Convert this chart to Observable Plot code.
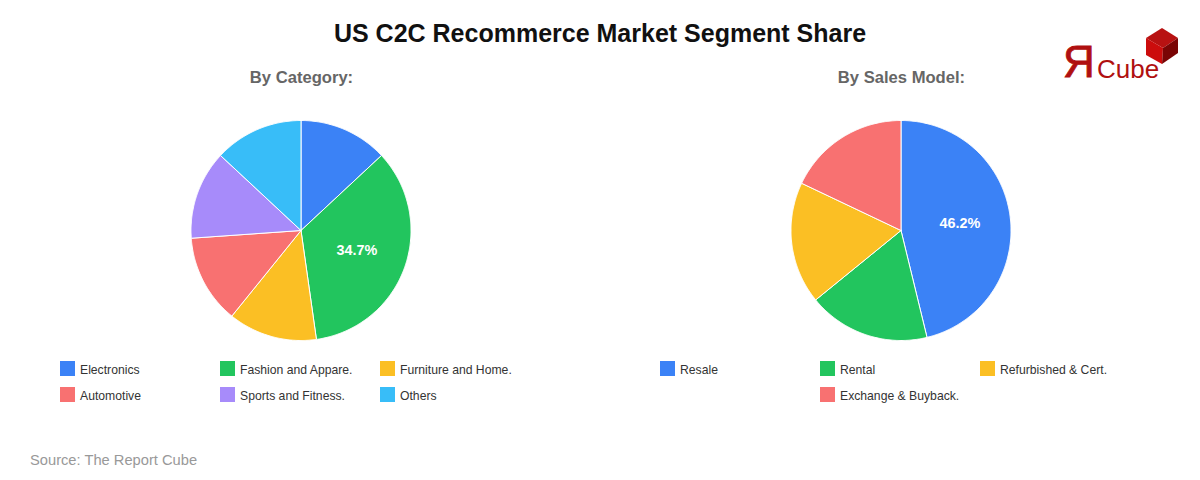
<!DOCTYPE html>
<html>
<head>
<meta charset="utf-8">
<script src="https://cdn.jsdelivr.net/npm/d3@7"></script>
<script src="https://cdn.jsdelivr.net/npm/@observablehq/plot@0.6"></script>
<style>
  html, body { margin: 0; padding: 0; background: #fff; }
  body { position: relative; width: 1200px; height: 480px; overflow: hidden; font-family: "Liberation Sans", Arial, sans-serif; }
  #title { position: absolute; left: 0; width: 1200px; top: 18px; text-align: center; font-size: 25px; line-height: 30px; font-weight: 700; color: #111; }
  .sub { position: absolute; top: 68px; width: 600px; text-align: center; font-size: 16.6px; line-height: 20px; font-weight: 700; color: #666; }
  .pie { position: absolute; top: 100px; width: 600px; height: 260px; }
  .pie svg { display: block; }
  .legend { position: absolute; top: 361px; display: grid; grid-template-columns: 160px 160px 160px; grid-auto-rows: 26px; font-size: 12.2px; color: #333; }
  .item { display: flex; align-items: flex-start; line-height: 16px; white-space: nowrap; }
  .item .tx { position: relative; top: 1px; }
  .sw { width: 15px; height: 15px; margin-right: 5px; flex: none; }
  #source { position: absolute; left: 30px; top: 451px; font-size: 14.7px; line-height: 18px; color: #999; }
  #logo { position: absolute; left: 1040px; top: 15px; }
</style>
</head>
<body>
<div id="title">US C2C Recommerce Market Segment Share</div>
<div class="sub" style="left:1.5px">By Category:</div>
<div class="sub" style="left:601.5px">By Sales Model:</div>
<div class="pie" id="pieA" style="left:0"></div>
<div class="pie" id="pieB" style="left:600px"></div>
<div class="legend" id="legA" style="left:60px"></div>
<div class="legend" id="legB" style="left:660px"></div>
<div id="source">Source: The Report Cube</div>
<svg id="logo" width="160" height="70" viewBox="0 0 160 70">
  <polygon points="122,13 138,23 123,33 106,23" fill="#b81212"/>
  <polygon points="106,23 123,33 122,49 106,40" fill="#cc0c0c"/>
  <polygon points="138,23 138,38 122,49 123,33" fill="#7a0505"/>
  <text x="23" y="62" font-family="Liberation Sans" font-size="44" fill="#b01010" stroke="#b01010" stroke-width="0.8">Я</text>
  <text x="57" y="63" font-family="Liberation Sans" font-size="26" fill="#b01010">Cube</text>
</svg>
<script>
const categoryNames = ["Electronics", "Fashion and Appare.", "Furniture and Home.", "Automotive", "Sports and Fitness.", "Others"];
const categoryValues = [13.06, 34.7, 13.06, 13.06, 13.06, 13.06];
const categoryColors = ["#3b82f6", "#22c55e", "#fbbf24", "#f87171", "#a78bfa", "#38bdf8"];

const modelNames = ["Resale", "Rental", "Refurbished & Cert.", "Exchange & Buyback."];
const modelValues = [46.2, 17.93, 17.93, 17.94];
const modelColors = ["#3b82f6", "#22c55e", "#fbbf24", "#f87171"];

const labelThreshold = 30;

function pie(target, names, values, colors, cx) {
  const total = d3.sum(values);
  const outline = [];
  const labels = [];
  let start = 0;
  names.forEach((name, i) => {
    const sweep = values[i] / total * 2 * Math.PI;
    outline.push({name, x: 0, y: 0});
    const steps = Math.max(2, Math.ceil(sweep / 0.01));
    for (let s = 0; s <= steps; s++) {
      const a = start + sweep * s / steps;
      outline.push({name, x: Math.sin(a), y: Math.cos(a)});
    }
    outline.push({name, x: 0, y: 0});
    if (values[i] > labelThreshold) {
      const mid = start + sweep / 2;
      labels.push({x: 0.54 * Math.sin(mid), y: 0.54 * Math.cos(mid), text: values[i].toFixed(1) + "%"});
    }
    start += sweep;
  });
  const plot = Plot.plot({
    width: 600,
    height: 260,
    margin: 0,
    x: {domain: [-1, 1], range: [cx - 110, cx + 110], axis: null},
    y: {domain: [-1, 1], range: [240, 20], axis: null},
    color: {domain: names, range: colors},
    style: {background: "transparent"},
    marks: [
      Plot.line(outline, {x: "x", y: "y", z: "name", fill: "name", stroke: "white", strokeWidth: 1, curve: "linear"}),
      Plot.text(labels, {x: "x", y: "y", text: "text", fill: "white", fontSize: 14.4, fontWeight: 700, fontFamily: "Liberation Sans"})
    ]
  });
  document.getElementById(target).append(plot);
}

function legend(target, names, colors, skipSlot) {
  const host = document.getElementById(target);
  names.forEach((name, i) => {
    const item = document.createElement("div");
    item.className = "item";
    if (i === skipSlot) item.style.gridColumn = "2";
    const sw = document.createElement("span");
    sw.className = "sw";
    sw.style.background = colors[i];
    const label = document.createElement("span");
    label.className = "tx";
    label.textContent = name;
    item.append(sw, label);
    host.append(item);
  });
}

pie("pieA", categoryNames, categoryValues, categoryColors, 300.5);
pie("pieB", modelNames, modelValues, modelColors, 300.5);
legend("legA", categoryNames, categoryColors, -1);
legend("legB", modelNames, modelColors, 3);
</script>
</body>
</html>
